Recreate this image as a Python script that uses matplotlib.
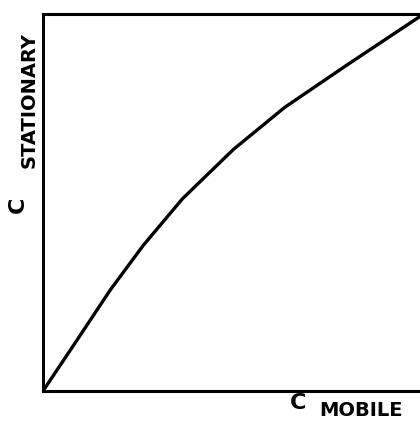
import numpy as np
import matplotlib.pyplot as plt

# isotherm: stationary-phase vs mobile-phase concentration (relative units)
c_mobile = [0.0, 0.090, 0.178, 0.265, 0.369, 0.504, 0.639, 0.806, 0.995]
c_stationary = [0.0, 0.135, 0.268, 0.386, 0.510, 0.641, 0.752, 0.866, 0.992]

W, H = 420, 426
fig = plt.figure(figsize=(W / 100, H / 100), dpi=100)
ax = fig.add_axes([43 / W, (H - 391) / H, 378 / W, 377 / H])

ax.plot(c_mobile, c_stationary, color="black", lw=2.4,
        solid_capstyle="round", solid_joinstyle="round")
ax.set_xlim(0, 1)
ax.set_ylim(0, 1)
ax.set_xticks([])
ax.set_yticks([])
for side in ["left", "bottom", "top"]:
    ax.spines[side].set_linewidth(2.2)
ax.spines["right"].set_visible(False)

# axis labels, lettered as text pieces
fig.text(298 / W, 1 - 403 / H, "C", fontsize=16, fontweight="bold",
         ha="center", va="center")
fig.text(361 / W, 1 - 411 / H, "MOBILE", fontsize=14, fontweight="bold",
         ha="center", va="center")
fig.text(18 / W, 1 - 205 / H, "C", fontsize=16, fontweight="bold",
         ha="center", va="center", rotation=90)
fig.text(29 / W, 1 - 100 / H, "STATIONARY", fontsize=14, fontweight="bold",
         ha="center", va="center", rotation=90)

fig.savefig("out.png", dpi=100)
